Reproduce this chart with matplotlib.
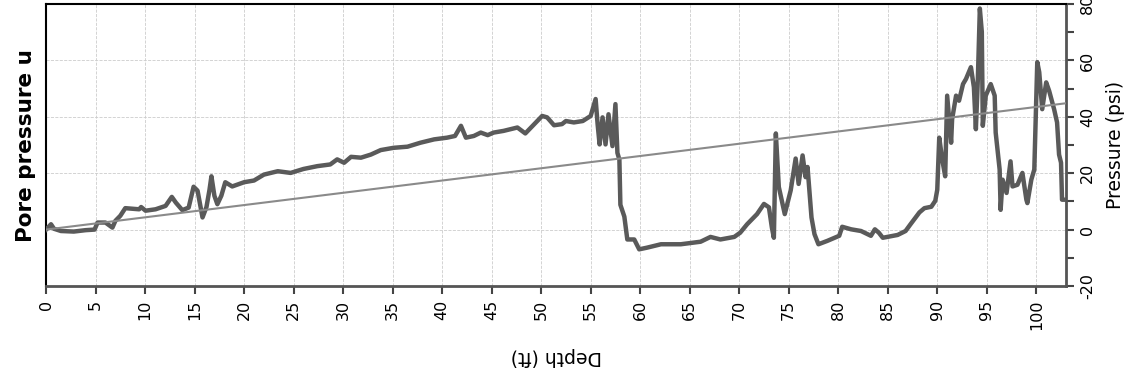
import matplotlib.pyplot as plt

plt.rcParams['axes.unicode_minus'] = False

# pore pressure log (depth in ft, pressure in psi)
depth = [0.0, 0.5, 0.8, 1.5, 2.8, 4.0, 4.9, 5.2, 6.0, 6.7, 7.0, 7.5, 8.0, 9.4, 9.6,
         10.05, 11.06, 12.07, 12.7, 13.1, 13.76, 14.4, 14.9, 15.3, 15.5, 15.8, 16.2,
         16.5, 16.7, 17.0, 17.3, 17.7, 18.1, 18.8, 20.0, 21.0, 22.0, 23.4, 24.7, 26.0,
         27.4, 28.7, 29.4, 30.1, 30.8, 31.8, 32.8, 33.8, 35.1, 36.5, 37.8, 39.2, 40.5,
         41.3, 41.9, 42.4, 43.2, 43.9, 44.6, 45.2, 46.2, 47.6, 48.4, 49.3, 50.1, 50.6,
         51.3, 52.1, 52.5, 53.3, 54.2, 55.0, 55.5, 55.7, 55.9, 56.2, 56.5, 56.8, 57.2,
         57.5, 57.7, 57.9, 58.0, 58.4, 58.7, 59.4, 59.9, 60.7, 62.1, 64.1, 66.1, 67.1,
         68.1, 69.5, 70.1, 70.8, 71.8, 72.5, 73.0, 73.3, 73.5, 73.7, 74.0, 74.6, 75.2,
         75.7, 76.0, 76.4, 76.7, 76.9, 77.3, 77.6, 78.0, 78.9, 80.1, 80.4, 81.3, 82.3,
         83.3, 83.7, 84.1, 84.5, 86.0, 86.8, 87.3, 88.2, 88.7, 89.4, 89.8, 90.0, 90.2,
         90.5, 90.8, 91.0, 91.4, 91.5, 91.9, 92.2, 92.6, 92.9, 93.4, 93.7, 93.9, 94.1,
         94.3, 94.5, 94.6, 94.9, 95.4, 95.8, 95.9, 96.3, 96.4, 96.6, 97.0, 97.4, 97.6,
         98.1, 98.6, 99.0, 99.1, 99.5, 99.8, 100.1, 100.3, 100.6, 101.0, 101.3, 101.8,
         102.1, 102.3, 102.5, 102.6, 103.0]
pore_u = [0.0, 1.9, 0.3, -0.5, -0.7, -0.2, 0.0, 2.5, 2.5, 0.7, 3.1, 4.9, 7.6, 7.2, 8.0,
          6.7, 7.2, 8.4, 11.6, 9.6, 6.9, 7.8, 15.2, 13.8, 10.0, 4.3, 8.0,
          14.0, 18.9, 12.0, 9.0, 12.0, 16.8, 15.3, 16.8, 17.4, 19.5, 20.7, 20.1, 21.5,
          22.5, 23.1, 24.9, 23.7, 25.8, 25.5, 26.6, 28.2, 29.0, 29.4, 30.8, 32.0, 32.6,
          33.2, 36.8, 32.6, 33.2, 34.4, 33.5, 34.4, 35.0, 36.2, 34.1, 37.4, 40.3, 39.8,
          37.0, 37.4, 38.5, 38.0, 38.5, 40.3, 46.3, 37.4, 30.2, 39.8, 30.2, 40.9, 29.6,
          44.5, 27.2, 24.8, 8.8, 4.6, -3.5, -3.5, -7.0, -6.4, -5.2, -5.2, -4.3, -2.6,
          -3.5, -2.6, -1.1, 1.9, 5.5, 9.1, 7.9, 0.7, -2.9, 34.1, 15.1, 5.5, 13.9,
          25.2, 16.2, 26.3, 18.6, 22.2, 4.3, -1.6, -5.2, -4.0, -2.2, 1.0, 0.1, -0.5,
          -2.2, 0.1, -1.1, -2.9, -1.9, -0.5, 1.9, 6.1, 7.6, 8.1, 10.2, 14.1, 32.6,
          24.9, 18.9, 47.5, 30.8, 39.1, 47.5, 45.7, 51.6, 53.4, 57.6, 50.5, 35.6, 53.4,
          78.4, 70.1, 36.8, 47.5, 51.6, 47.5, 34.4, 21.3, 7.0, 17.7, 13.0, 24.2, 15.3,
          15.9, 20.1, 10.6, 9.4, 17.7, 21.3, 59.4, 55.8, 42.7, 52.2, 49.2, 42.7,
          38.0, 26.6, 23.7, 10.6, 10.6]

# hydrostatic line
hydro_depth = [0, 103]
hydro_u = [0.0, 44.8]

xticks = list(range(0, 105, 5))
yticks = [-20, 0, 20, 40, 60, 80]

fig = plt.figure(figsize=(11.26, 3.77), dpi=100)
ax = fig.add_axes([0.0409, 0.2414, 0.9058, 0.748])

ax.plot(depth, pore_u, color='#5a5a5a', lw=3.2, solid_joinstyle='round', zorder=3)
ax.plot(hydro_depth, hydro_u, color='#8a8a8a', lw=1.5, zorder=4)

ax.set_xlim(0, 103)
ax.set_ylim(-20, 80)
ax.set_xticks(xticks)
ax.set_yticks(yticks)
ax.set_yticks([-10, 10, 30, 50, 70], minor=True)
ax.grid(True, color='#cccccc', ls='--', lw=0.6)

ax.yaxis.tick_right()
ax.yaxis.set_label_position('right')
ax.tick_params(axis='x', direction='out', length=6, width=1.5, color='#444444',
               labelsize=11.5, labelrotation=90, pad=4)
ax.tick_params(axis='y', which='both', direction='out', length=6, width=1.5,
               color='#444444', labelsize=11.5, labelrotation=90, pad=4)
for lab in ax.get_yticklabels():
    lab.set_va('center')

for side in ['top', 'left']:
    ax.spines[side].set_color('black')
    ax.spines[side].set_linewidth(1.5)
for side in ['bottom', 'right']:
    ax.spines[side].set_color('#555555')
    ax.spines[side].set_linewidth(2)

ax.set_xlabel('Depth (ft)', fontsize=13.5, rotation=180, labelpad=12)
ax.set_ylabel('Pressure (psi)', fontsize=13.5, rotation=90, labelpad=8)
fig.text(0.023, 0.615, 'Pore pressure u', fontsize=15.5, fontweight='bold',
         rotation=90, ha='center', va='center')

fig.savefig('out.png', dpi=100)
